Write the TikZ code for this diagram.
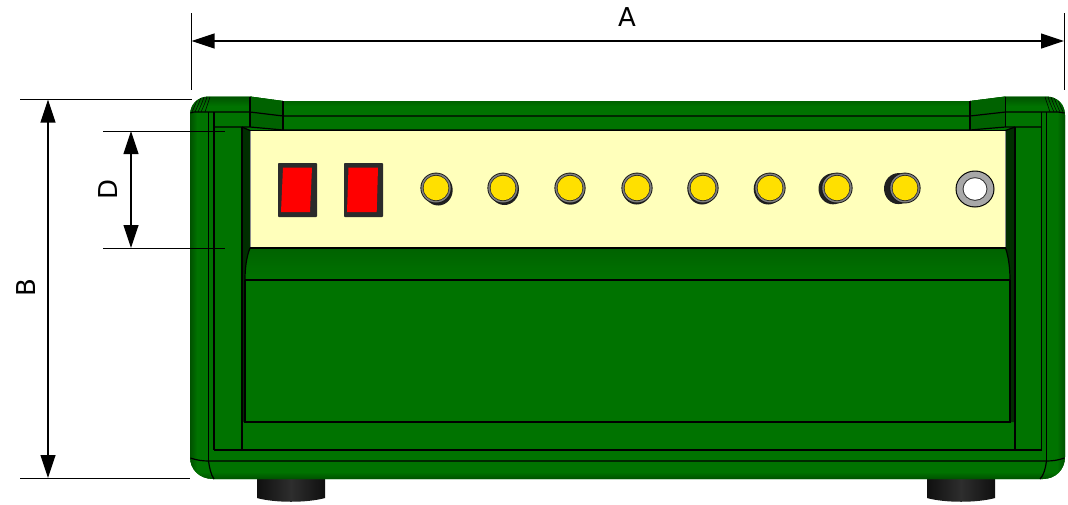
\documentclass[tikz,border=0pt]{standalone}
\usepackage{fontspec}
\setmainfont{DejaVu Sans}
\usetikzlibrary{arrows.meta}
\definecolor{bodygreen}{HTML}{007300}
\definecolor{edgegreen}{HTML}{004C00}
\definecolor{wedgegreen}{HTML}{006200}
\definecolor{darkgreen}{HTML}{002E00}
\definecolor{panelcream}{HTML}{FFFFBB}
\definecolor{switchgrey}{HTML}{2B2B2B}
\definecolor{ledyellow}{HTML}{FFE000}
\definecolor{ringgrey}{HTML}{808080}
\definecolor{washer}{HTML}{A8A8A8}
\tikzset{
  edge/.style={black,line width=1.2pt},
  thick edge/.style={black,line width=2pt},
  ext/.style={black,line width=1pt},
  dim/.style={black,line width=1.2pt,{Triangle[length=23pt,width=15pt]}-{Triangle[length=23pt,width=15pt]}},
  dimtext/.style={font=\fontsize{26}{26}\selectfont,inner sep=0pt},
  redrock/.style={fill=red,draw=none},
  housing/.style={draw=switchgrey,fill=switchgrey,line width=1pt,rounded corners=0.5pt},
  foot/.style={left color=black!94,right color=black!94,middle color=black!82}
}
\newcommand{\bodypath}{(190,115) .. controls (190,104) and (198,96.5) .. (209,96.5) -- (250,96.5) -- (283,101) -- (970,101) -- (1005.5,96.5) -- (1046,96.5) .. controls (1057,96.5) and (1065,104) .. (1065,115) -- (1065,457) .. controls (1065,470) and (1055,479) .. (1043,479) -- (213,479) .. controls (200,479) and (190,470) .. (190,457) -- cycle}
\newcommand{\led}[3]{%
  \fill[black!88] (#1+#2,188+#3) ellipse[x radius=14.5,y radius=15.5];
  \fill[black!90] (#1,188) ellipse[x radius=15.6,y radius=15.4];
  \fill[ringgrey] (#1,188) ellipse[x radius=14.7,y radius=14.5];
  \fill[black!85] (#1,188) ellipse[x radius=13.2,y radius=13];
  \fill[ledyellow] (#1,188) ellipse[x radius=12.5,y radius=12.3];
}
\begin{document}
\begin{tikzpicture}[x=1pt,y=-1pt]
\useasboundingbox (0,0) rectangle (1068,504);
% feet
\foreach \x in {257,927}{
  \path[foot] (\x,478) -- (\x+68,478) -- (\x+68,498) .. controls (\x+50,503) and (\x+18,503) .. (\x,498) -- cycle;
}
% body
\fill[bodygreen] \bodypath;
\begin{scope}
  \clip \bodypath;
  \shade[left color=edgegreen,right color=bodygreen] (189,90) rectangle (197,485);
  \shade[right color=edgegreen,left color=bodygreen] (1057,90) rectangle (1066,485);
  \shade[top color=edgegreen,bottom color=bodygreen] (197,95) rectangle (1057,106);
  \shade[bottom color=edgegreen,top color=bodygreen] (197,472) rectangle (1057,480);
  % top corner wedges
  \fill[wedgegreen] (250,96) -- (283,101) -- (283,130) -- (250,127) -- cycle;
  \fill[wedgegreen] (1005.5,96) -- (970,101) -- (970,130) -- (1005.5,127) -- cycle;
  % corner ribs
  \foreach \a/\b in {198/192,201/195,204/198,207/201,210/205}{
    \draw[black,line width=0.5pt] (\a,97) .. controls (\a-2,103) .. (\b,112);
  }
  \foreach \a/\b in {1057/1063,1054/1060,1051/1057,1048/1054,1045/1050}{
    \draw[black,line width=0.5pt] (\a,97) .. controls (\a+2,103) .. (\b,112);
  }
\end{scope}
% dark recess sides
\fill[darkgreen] (242,127) -- (250,130) -- (250,248) .. controls (246,258) and (245,270) .. (245,280) -- (245,422) -- (242,422) -- cycle;
\fill[darkgreen] (1015,127) -- (1005.5,130) -- (1005.5,248) .. controls (1009,258) and (1010,270) .. (1010,280) -- (1010,422) -- (1015,422) -- cycle;
% front panel
\fill[panelcream] (250,130.5) rectangle (1005.5,248);
\draw[black!45,line width=0.5pt] (250,130.5) -- (250,248) (1005.5,130.5) -- (1005.5,248);
% curved section under the panel
\shade[top color=wedgegreen,bottom color=bodygreen] (250,248) .. controls (246,258) and (245,270) .. (245,280) -- (1010,280) .. controls (1010,270) and (1009,258) .. (1005.5,248) -- cycle;
% lines
\draw[edge] (190.5,113) .. controls (193,112) .. (198,112) -- (250,112) -- (283,116) -- (970,116) -- (1005.5,112) -- (1058,112) .. controls (1062,112) .. (1064.5,113);
\draw[edge] (250,96.5) -- (250,127) (283,101) -- (283,130) (970,101) -- (970,130) (1005.5,96.5) -- (1005.5,127);
\draw[edge] (214,127) -- (250,127) -- (283,130) -- (970,130) -- (1005.5,127) -- (1041.5,127);
\draw[edge] (208.5,112) -- (208.5,461) (214,112) -- (214,450);
\draw[edge] (1041.5,112) -- (1041.5,450) (1046.5,112) -- (1046.5,461);
\draw[edge] (242,127) -- (250,130.5);
\draw[edge] (1015,127) -- (1005.5,130.5);
\draw[edge] (242,127) -- (242,450) (1015,127) -- (1015,450);
\draw[edge] (250,130.5) -- (1005.5,130.5);
\draw[edge] (250,248) -- (1005.5,248);
\draw[edge] (250,248) .. controls (246,258) and (245,270) .. (245,280);
\draw[edge] (1005.5,248) .. controls (1009,258) and (1010,270) .. (1010,280);
\draw[edge] (245,280) -- (1010,280);
\draw[thick edge] (245,280) -- (245,422) -- (1010,422) -- (1010,280);
\draw[edge] (214,450) -- (1041.5,450);
\draw[edge] (190.5,458) .. controls (196,460) and (202,461) .. (208.5,461) -- (1046.5,461) .. controls (1053,461) and (1059,460) .. (1064.5,458);
\draw[edge] (208.5,461) .. controls (209.5,468) and (211,475) .. (214,479);
\draw[edge] (1046.5,461) .. controls (1045.5,468) and (1044,475) .. (1040,479);
% rocker switches
\fill[housing] (278.5,163.5) rectangle (316.5,216.5);
\fill[redrock] (283,167.5) -- (312,167.5) -- (310,212) -- (281,212) -- cycle;
\fill[housing] (344.5,163.5) rectangle (382.5,216.5);
\fill[redrock] (348.5,167.5) -- (378,167.5) -- (376.7,212) -- (347,212) -- cycle;
% indicator lamps
\led{436}{2.2}{2}
\led{503}{1.4}{1.5}
\led{570}{0.5}{1.2}
\led{637}{-0.3}{1}
\led{703}{-1}{1}
\led{770}{-1.8}{1}
\led{837}{-4}{0.8}
\led{905}{-6.5}{0.6}
% washer
\fill[black] (975,189) ellipse[x radius=19.5,y radius=18.5];
\fill[washer] (975,189) ellipse[x radius=18.4,y radius=17.4];
\fill[black!80] (975,189) ellipse[x radius=12.4,y radius=11.8];
\fill[white] (975,189) ellipse[x radius=11.4,y radius=10.8];
% dimensions
\coordinate (a1) at (191.5,13); \coordinate (a2) at (191.5,90);
\coordinate (a3) at (1064,13); \coordinate (a4) at (1064,90);
\coordinate (al) at (191.5,41); \coordinate (ar) at (1064,41);
\coordinate (b1) at (20,99.5); \coordinate (b2) at (192,99.5);
\coordinate (b3) at (20,478); \coordinate (b4) at (190,478);
\coordinate (bt) at (48,99.5); \coordinate (bb) at (48,478);
\coordinate (d1) at (103,131); \coordinate (d2) at (225,131);
\coordinate (d3) at (103,248); \coordinate (d4) at (225,248);
\coordinate (dt) at (131,131); \coordinate (db) at (131,248);
\draw[ext] (a1) -- (a2);
\draw[ext] (a3) -- (a4);
\draw[ext] (b1) -- (b2);
\draw[ext] (b3) -- (b4);
\draw[ext] (d1) -- (d2);
\draw[ext] (d3) -- (d4);
\draw[dim] (al) -- (ar);
\draw[dim] (bt) -- (bb);
\draw[dim] (dt) -- (db);
\node[dimtext] (la) at (627,17.5) {A};
\node[dimtext,rotate=90] (lb) at (26,288) {B};
\node[dimtext,rotate=90] (ld) at (108,189) {D};
\end{tikzpicture}
\end{document}
